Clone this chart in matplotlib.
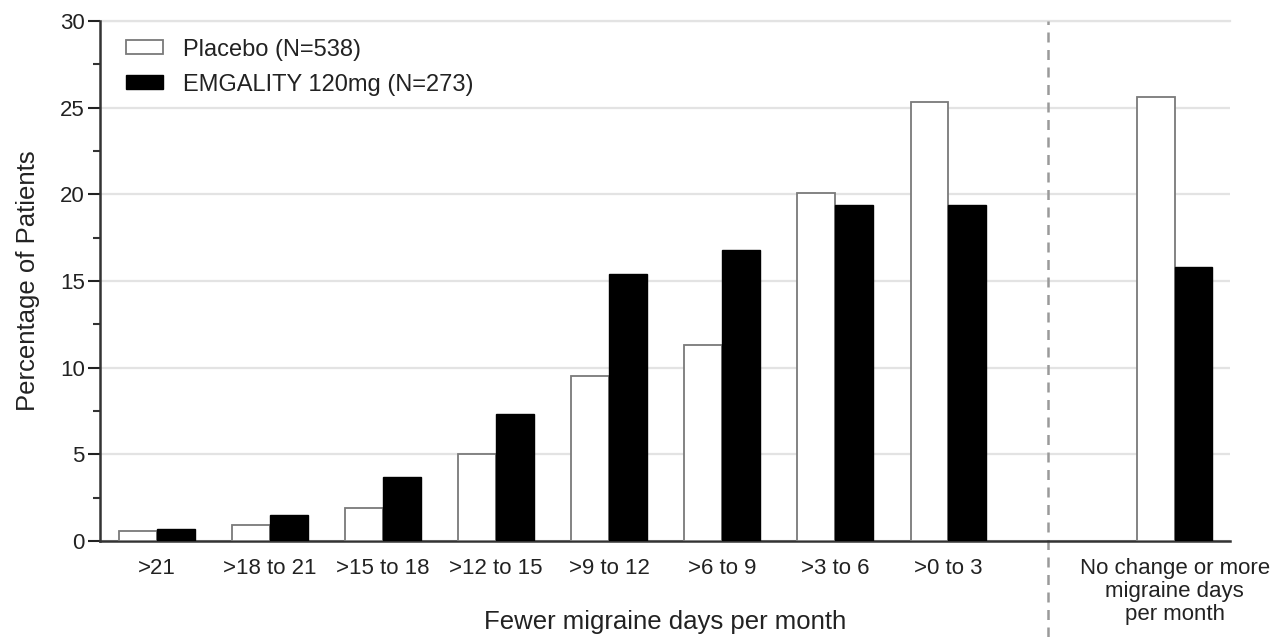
import matplotlib
matplotlib.use("Agg")
import matplotlib.pyplot as plt
from matplotlib.ticker import MultipleLocator
import numpy as np

plt.rcParams['font.family'] = ['Liberation Sans', 'DejaVu Sans']

categories = [">21", ">18 to 21", ">15 to 18", ">12 to 15", ">9 to 12",
              ">6 to 9", ">3 to 6", ">0 to 3",
              "No change or more\nmigraine days\nper month"]
placebo = [0.6, 0.9, 1.9, 5.0, 9.5, 11.3, 20.1, 25.3, 25.6]
emgality = [0.7, 1.5, 3.7, 7.3, 15.4, 16.8, 19.4, 19.4, 15.8]
series_names = ["Placebo (N=538)", "EMGALITY 120mg (N=273)"]
y_ticks = [0, 5, 10, 15, 20, 25, 30]

x = np.array([0, 1, 2, 3, 4, 5, 6, 7, 9], dtype=float)
w = 0.335

fig = plt.figure(figsize=(12.75, 6.37), dpi=100)
ax = fig.add_axes([0.0784, 0.1507, 0.8863, 0.8163])

ax.bar(x - w / 2, placebo, width=w, color="white", edgecolor="#7a7a7a",
       linewidth=1.3, label=series_names[0], zorder=3)
ax.bar(x + w / 2, emgality, width=w, color="black", edgecolor="black",
       linewidth=1.0, label=series_names[1], zorder=3)

ax.set_xlim(-0.504, 9.49)
ax.set_ylim(0, 30)
ax.set_yticks(y_ticks)
ax.yaxis.set_minor_locator(MultipleLocator(2.5))
ax.set_xticks(x)
ax.set_xticklabels(categories, linespacing=1.12)
ax.tick_params(axis="x", length=0, pad=12, labelsize=16, colors="#222222")
ax.tick_params(axis="y", which="major", length=9, width=1.5, labelsize=16,
               colors="#222222", pad=2, direction="out")
ax.tick_params(axis="y", which="minor", length=5, width=1.5, colors="#333333")

for s in ["top", "right"]:
    ax.spines[s].set_visible(False)
for s in ["left", "bottom"]:
    ax.spines[s].set_linewidth(1.8)
    ax.spines[s].set_color("#333333")

ax.yaxis.grid(True, color="#e3e3e3", linewidth=1.6, zorder=0)
ax.set_axisbelow(True)
ax.axhline(30, color="#e3e3e3", linewidth=1.6, zorder=0, clip_on=False)

# dashed separator
ax.axvline(7.88, ymin=-0.185, ymax=1.0, color="#9a9a9a", linestyle=(0, (4, 3)),
           linewidth=1.8, clip_on=False, zorder=2)

ax.set_ylabel("Percentage of Patients", fontsize=18.5, color="#222222", labelpad=14)
ax.set_xlabel("Fewer migraine days per month", fontsize=18.5, color="#222222")
ax.xaxis.set_label_coords(0.5, -0.133)

leg = ax.legend(loc="upper left", bbox_to_anchor=(0.008, 0.998), frameon=False,
                fontsize=17, handlelength=1.6, handleheight=0.55,
                handletextpad=0.85, labelspacing=0.55, borderaxespad=0.3)
for t in leg.get_texts():
    t.set_color("#222222")

fig.savefig("out.png", dpi=100)
